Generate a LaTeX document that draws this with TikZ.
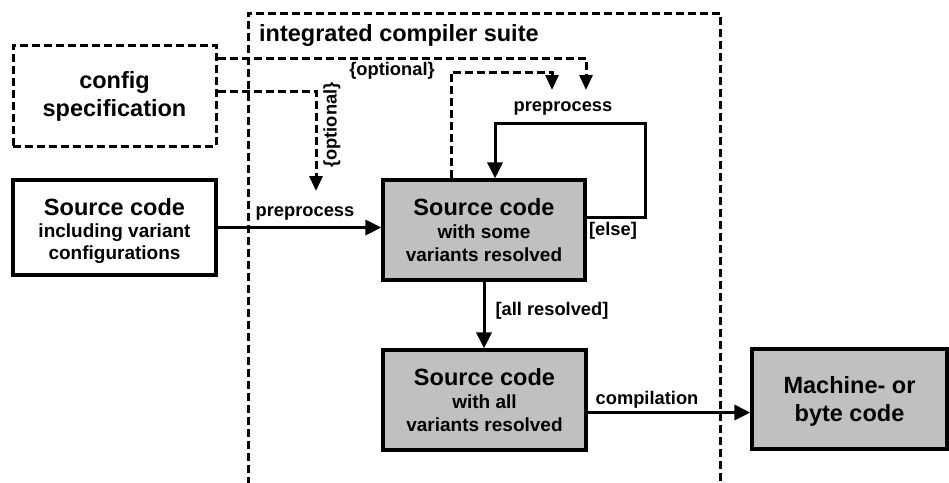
\documentclass[tikz,border=0pt]{standalone}
\usepackage{fontspec}
\setmainfont{Liberation Sans}
\usetikzlibrary{arrows.meta}
\definecolor{boxgray}{RGB}{192,192,192}
\tikzset{
  solidbox/.style={draw, line width=3.2pt, inner sep=0pt},
  graybox/.style={solidbox, fill=boxgray},
  dashbox/.style={draw, line width=3pt, dash pattern=on 8pt off 4pt, inner sep=0pt},
  arr/.style={line width=3pt, -{Triangle[length=16pt,width=15pt]}},
  darr/.style={line width=3pt, dash pattern=on 8pt off 4pt, -{Triangle[length=15pt,width=13pt]}},
  dline/.style={line width=3pt, dash pattern=on 8pt off 4pt},
  lbl/.style={font=\fontsize{18.3}{21}\selectfont\bfseries, inner sep=0pt},
  hdt/.style={font=\fontsize{23.5}{26}\selectfont\bfseries, inner sep=0pt, anchor=base},
  subt/.style={font=\fontsize{19}{22}\selectfont\bfseries, inner sep=0pt, anchor=base},
}
\begin{document}
\begin{tikzpicture}[x=1pt,y=-1pt]
\useasboundingbox (0,0) rectangle (949,482);
% frame
\draw[dline] (248,485) -- (248,13) -- (720,13) -- (720,485);
\node[hdt, anchor=base west] (suite) at (259,41) {integrated compiler suite};
% boxes
\node[dashbox, minimum width=203pt, minimum height=101pt] (config) at (114.5,95.5) {};
\node[hdt] (config-a) at (114.5,88) {config};
\node[hdt] (config-b) at (114.5,116) {specification};
\node[solidbox, minimum width=203pt, minimum height=95pt] (src) at (114.5,227.5) {};
\node[hdt] (src-a) at (114.5,215) {Source code};
\node[subt] (src-b) at (114.5,237) {including variant};
\node[subt] (src-c) at (114.5,259) {configurations};
\node[graybox, minimum width=202pt, minimum height=100pt] (mid) at (484,230) {};
\node[hdt] (mid-a) at (484,215) {Source code};
\node[subt] (mid-b) at (484,238) {with some};
\node[subt] (mid-c) at (484,261) {variants resolved};
\node[graybox, minimum width=203pt, minimum height=100pt] (low) at (484.5,400) {};
\node[hdt] (low-a) at (484.5,385) {Source code};
\node[subt] (low-b) at (484.5,408) {with all};
\node[subt] (low-c) at (484.5,431) {variants resolved};
\node[graybox, minimum width=195pt, minimum height=100pt] (mach) at (849.5,399) {};
\node[hdt] (mach-a) at (849.5,393) {Machine- or};
\node[hdt] (mach-b) at (849.5,421) {byte code};
% solid arrows
\draw[arr] (src.east) -- (src.east -| mid.west);
\draw[arr] (mid.south) -- (mid.south |- low.north);
\draw[arr] ([yshift=-12.5pt]low.east) -- ([yshift=-12.5pt]low.east -| mach.west);
\coordinate (lpA) at (645,217);
\coordinate (lpB) at (645,123);
\coordinate (lpC) at (495,123);
\draw[arr] ([yshift=13pt]mid.east) -- (lpA) -- (lpB) -- (lpC) -- (lpC |- mid.north);
% dashed arrows
\coordinate (dA1) at (586,58);
\coordinate (dA2) at (586,90);
\draw[darr] ([yshift=37.5pt]config.east) -- (dA1) -- (dA2);
\coordinate (dB1) at (316,91);
\coordinate (dB2) at (316,191);
\draw[darr] ([yshift=4.5pt]config.east) -- (dB1) -- (dB2);
\coordinate (dC1) at (451,72);
\coordinate (dC2) at (552,72);
\coordinate (dC3) at (552,90);
\draw[darr] (dC1 |- mid.north) -- (dC1) -- (dC2) -- (dC3);
% labels
\node[lbl] (opt1) at (392,71) {\{optional\}};
\node[lbl, rotate=90] (opt2) at (332,125) {\{optional\}};
\node[lbl] (pp1) at (563,108) {preprocess};
\node[lbl] (else) at (613,231) {[else]};
\node[lbl] (pp2) at (305,213) {preprocess};
\node[lbl] (allr) at (552,311) {[all resolved]};
\node[lbl] (comp) at (647,400) {compilation};
\end{tikzpicture}
\end{document}
